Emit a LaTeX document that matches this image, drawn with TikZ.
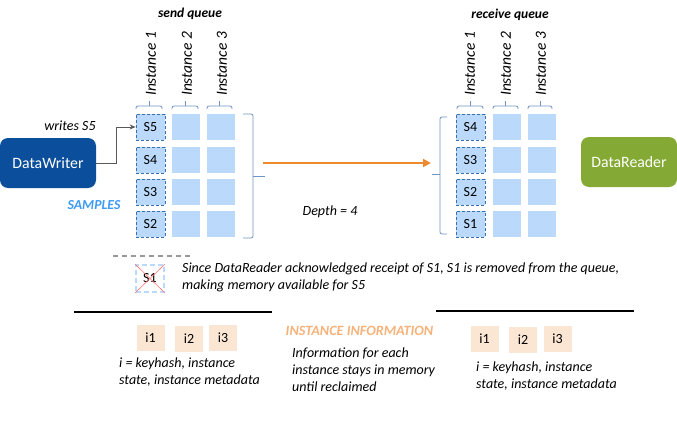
\documentclass[tikz,border=0pt]{standalone}
\usepackage{fontspec}
\setmainfont{Carlito}
\usepackage{tikz}
\usetikzlibrary{arrows.meta,positioning,calc}
\usepackage{xcolor}
\definecolor{writer}{HTML}{0B4F9C}
\definecolor{reader}{HTML}{84AA35}
\definecolor{cell}{HTML}{BBDAFB}
\definecolor{sampleline}{HTML}{3A6FB0}
\definecolor{bracecol}{HTML}{6F93C2}
\definecolor{flow}{HTML}{ED8B2F}
\definecolor{samples}{HTML}{3D9BF5}
\definecolor{peach}{HTML}{FBE5D3}
\definecolor{instinfo}{HTML}{F6B27A}

\tikzset{
  cellbox/.style={fill=cell, minimum width=28pt, minimum height=26pt,
    inner sep=0pt, font=\fontsize{14}{15}\selectfont},
  samplebox/.style={cellbox, draw=sampleline, densely dashed, line width=0.7pt,
    minimum width=29pt},
  colbrace/.style={draw=bracecol, line width=0.8pt, rounded corners=2pt},
  instlabel/.style={rotate=90, inner sep=0pt, font=\itshape\fontsize{15.5}{16}\selectfont},
  infobox/.style={fill=peach, minimum width=28pt, minimum height=26pt,
    inner sep=0pt, font=\fontsize{14}{15}\selectfont},
  agent/.style={rounded corners=8pt, minimum width=96pt, minimum height=50pt,
    inner sep=0pt, text=white, font=\fontsize{15.8}{17}\selectfont},
  note/.style={inner sep=0pt, align=left, font=\itshape\fontsize{14}{17}\selectfont},
  heading/.style={inner sep=0pt, font=\bfseries\itshape\fontsize{13.5}{15}\selectfont},
}

\begin{document}
\begin{tikzpicture}[x=1pt, y=-1pt]
  \useasboundingbox (0,0) rectangle (677,428);

  % Queue titles
  \node[heading] (sendq) at (190,14) {send queue};
  \node[heading] (recvq) at (510,15) {receive queue};

  % Instance columns, send side
  \node[instlabel] (si1) at (151,64) {Instance 1};
  \node[instlabel] (si2) at (187,64) {Instance 2};
  \node[instlabel] (si3) at (222,64) {Instance 3};
  % Instance columns, receive side
  \node[instlabel] (ri1) at (470,64) {Instance 1};
  \node[instlabel] (ri2) at (506,64) {Instance 2};
  \node[instlabel] (ri3) at (541,64) {Instance 3};

  % Column braces
  \foreach \a/\b in {136/162, 172/198, 207/232, 457/483, 493/518, 528/552}{
    \draw[colbrace] (\a,109) -- (\a,106) -- (\b,106) -- (\b,109);
    \draw[colbrace] ({(\a+\b)/2},106) -- ({(\a+\b)/2},101);
  }

  % Send queue cells
  \node[samplebox] (s5) at (150.5,127) {S5};
  \node[samplebox] (s4) at (150.5,160) {S4};
  \node[samplebox] (s3) at (150.5,192) {S3};
  \node[samplebox] (s2) at (150.5,224) {S2};
  \foreach \y in {127,160,192,224}{
    \node[cellbox] at (186,\y) {};
    \node[cellbox] at (221,\y) {};
  }

  % Receive queue cells
  \node[samplebox] (r4) at (470.5,127) {S4};
  \node[samplebox] (r3) at (470.5,160) {S3};
  \node[samplebox] (r2) at (470.5,192) {S2};
  \node[samplebox] (r1) at (470.5,224) {S1};
  \foreach \y in {127,160,192,224}{
    \node[cellbox] at (507,\y) {};
    \node[cellbox] at (541.5,\y) {};
  }

  % Depth braces
  \draw[colbrace] (243,114) -- (253,114) -- (253,238) -- (243,238);
  \draw[colbrace] (253,176) -- (265,176);
  \draw[colbrace] (447,117) -- (440,117) -- (440,234) -- (447,234);
  \draw[colbrace] (440,174) -- (432,174);

  % Writer and reader
  \node[agent, fill=writer] (dw) at (48,163) {DataWriter};
  \node[agent, fill=reader] (dr) at (629,162) {DataReader};
  \draw[-{Stealth[length=6pt,width=5pt]}, draw=black!65, line width=0.8pt]
    (dw.east) -- ++(20,0) |- (s5.west);
  \node[note] (writes) at (70,126) {writes S5};
  \node[heading, text=samples, font=\bfseries\itshape\fontsize{13.8}{15}\selectfont]
    (samp) at (94,205) {SAMPLES};

  % Flow between queues
  \coordinate (qout) at (263,163);
  \coordinate (qin) at (431,163);
  \draw[-{Triangle[length=8pt,width=8pt]}, flow, line width=2.6pt] (qout) -- (qin);
  \node[note] (depth) at (330,212) {Depth = 4};

  % Removed sample
  \draw[gray!80, line width=1.3pt, dash pattern=on 5pt off 4pt] (113,256) -- (192,256);
  \node[minimum width=28pt, minimum height=27pt, inner sep=0pt, draw=cell,
    line width=1.6pt, dash pattern=on 5pt off 3pt, font=\fontsize{14}{15}\selectfont]
    (s1x) at (150,278.5) {S1};
  \draw[red!55, line width=0.6pt] (s1x.north west) -- (s1x.south east);
  \draw[red!55, line width=0.6pt] (s1x.north east) -- (s1x.south west);
  \node[note, anchor=north west] (ack) at (182,263)
    {Since DataReader acknowledged receipt of S1, S1 is removed from the queue,\\
     making memory available for S5};

  % Separators
  \draw[line width=2pt] (74,312) -- (272,312);
  \draw[line width=2pt] (436,311) -- (634,311);

  % Instance information, send side
  \node[infobox] (wi1) at (150.5,338) {i1};
  \node[infobox] (wi2) at (189,338.5) {i2};
  \node[infobox] (wi3) at (223,337.5) {i3};
  \node[note, anchor=north west] (wkey) at (119,358)
    {i = keyhash, instance\\state, instance metadata};

  % Instance information, receive side
  \node[infobox] (ri1b) at (484.5,339) {i1};
  \node[infobox] (ri2b) at (523,340) {i2};
  \node[infobox] (ri3b) at (557.5,339) {i3};
  \node[note, anchor=north west] (rkey) at (476,362)
    {i = keyhash, instance\\state, instance metadata};

  % Middle caption
  \node[heading, text=instinfo, font=\bfseries\itshape\fontsize{14.2}{15}\selectfont]
    (info) at (359.5,331) {INSTANCE INFORMATION};
  \node[note, anchor=north west] (stays) at (292,348)
    {Information for each\\instance stays in memory\\until reclaimed};
\end{tikzpicture}
\end{document}
